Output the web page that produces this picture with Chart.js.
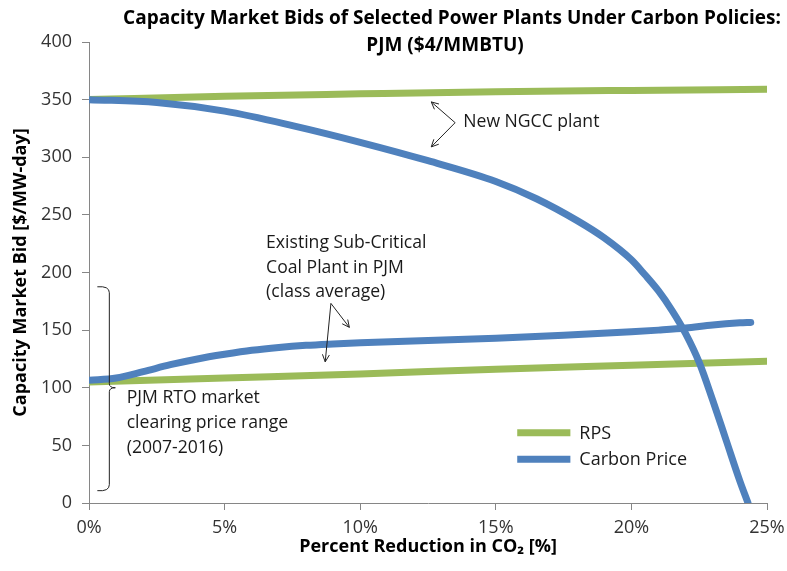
<!DOCTYPE html>
<html>
<head>
<meta charset="utf-8">
<script src="https://cdn.jsdelivr.net/npm/chart.js@4"></script>
<style>
  html, body { margin: 0; padding: 0; background: #ffffff; }
  #wrap { width: 787px; height: 571px; }
</style>
</head>
<body>
<div id="wrap"><canvas id="c" width="787" height="571"></canvas></div>
<script>
// ---- data (x = percent reduction in CO2, y = $/MW-day) ----
const xTickValues = [0, 5, 10, 15, 20, 25];
const yTickValues = [0, 50, 100, 150, 200, 250, 300, 350, 400];

const rpsNgccX = [0, 5, 10, 15, 20, 25];
const rpsNgccY = [350, 353, 355, 356.8, 358, 359];

const rpsCoalX = [0, 5, 10, 15, 20, 25];
const rpsCoalY = [105, 108.5, 112, 116, 119.5, 123];

const carbonNgccX = [0, 2.5, 5, 7.5, 10, 12.5, 15, 16.5, 18, 19, 20, 20.5, 21, 21.5, 22, 22.5, 23, 23.5, 24, 24.3];
const carbonNgccY = [350, 347.5, 340, 327.5, 313, 297, 279, 264, 245, 230, 211, 198, 184, 167, 147, 122, 89, 54, 19, 0];

const carbonCoalX = [0, 1, 2, 3, 4, 5, 6, 7, 8, 9, 10, 12.5, 15, 17.5, 20, 21, 22, 23, 24, 24.4];
const carbonCoalY = [106.5, 108.5, 114, 120, 125, 129, 132.5, 135, 136.8, 138, 139, 141, 143, 145.5, 148.5, 150, 151.8, 154.5, 156.3, 156.7];

const legendLabels = ['RPS', 'Carbon Price'];
const titleLines = ['Capacity Market Bids of Selected Power Plants Under Carbon Policies:', 'PJM ($4/MMBTU)'];
const xAxisTitle = 'Percent Reduction in CO\u2082 [%]';
const yAxisTitle = 'Capacity Market Bid [$/MW-day]';
const ngccNote = ['New NGCC plant'];
const coalNote = ['Existing Sub-Critical', 'Coal Plant in PJM', '(class average)'];
const pjmNote = ['PJM RTO market', 'clearing price range', '(2007-2016)'];

const GREEN = '#9BBB59';
const BLUE = '#4F81BD';
const FONT = '"Open Sans", Lato, sans-serif';

function pts(xs, ys) { return xs.map((x, i) => ({ x: x, y: ys[i] })); }

// ---- annotation plugin (positions in data units) ----
const notes = {
  ngccText: { x: 13.8, y: 330.5 },
  ngccArrow: { v: [13.5, 330], tips: [[12.62, 348], [12.62, 309]] },
  coalText: { x: 6.53, y: 225.5, dy: 24.5 },
  coalArrow: { v: [8.92, 173.2], tips: [[9.6, 152.4], [8.71, 122.5]] },
  brace: { x: 0.75, top: 187.6, bottom: 10.7, mid: 100 },
  pjmText: { x: 1.39, y: 91, dy: 25 },
  legend: { x0: 15.79, x1: 17.75, tx: 18.08, y: [61, 38] }
};

function arrowHead(ctx, fx, fy, tx, ty) {
  const a = Math.atan2(ty - fy, tx - fx);
  const L = 8, w = 0.45;
  ctx.beginPath();
  ctx.moveTo(tx - L * Math.cos(a - w), ty - L * Math.sin(a - w));
  ctx.lineTo(tx, ty);
  ctx.lineTo(tx - L * Math.cos(a + w), ty - L * Math.sin(a + w));
  ctx.stroke();
}

const annotPlugin = {
  id: 'annot',
  afterDraw(chart) {
    const ctx = chart.ctx;
    const xs = chart.scales.x, ys = chart.scales.y;
    const px = v => xs.getPixelForValue(v);
    const py = v => ys.getPixelForValue(v);
    ctx.save();
    // title
    ctx.fillStyle = '#000';
    ctx.font = 'bold 19px ' + FONT;
    ctx.textAlign = 'center';
    ctx.textBaseline = 'middle';
    ctx.fillText(titleLines[0], 452, 19);
    ctx.fillText(titleLines[1], 445, 46);

    // text notes
    ctx.font = '17.6px ' + FONT;
    ctx.textAlign = 'left';
    ctx.fillStyle = '#1a1a1a';
    ctx.fillText(ngccNote[0], px(notes.ngccText.x), py(notes.ngccText.y));
    coalNote.forEach((t, i) => ctx.fillText(t, px(notes.coalText.x), py(notes.coalText.y) + i * notes.coalText.dy));
    pjmNote.forEach((t, i) => ctx.fillText(t, px(notes.pjmText.x), py(notes.pjmText.y) + i * notes.pjmText.dy));

    // arrows
    ctx.strokeStyle = '#222';
    ctx.lineWidth = 1;
    [notes.ngccArrow, notes.coalArrow].forEach(a => {
      const vx = px(a.v[0]), vy = py(a.v[1]);
      a.tips.forEach(t => {
        const tx = px(t[0]), ty = py(t[1]);
        ctx.beginPath(); ctx.moveTo(vx, vy); ctx.lineTo(tx, ty); ctx.stroke();
        arrowHead(ctx, vx, vy, tx, ty);
      });
    });

    // curly brace
    const bx = px(notes.brace.x), bt = py(notes.brace.top), bb = py(notes.brace.bottom), bm = py(notes.brace.mid);
    ctx.beginPath();
    ctx.moveTo(bx - 12, bt);
    ctx.quadraticCurveTo(bx, bt - 1, bx, bt + 6);
    ctx.lineTo(bx, bm - 4);
    ctx.quadraticCurveTo(bx, bm, bx + 6, bm);
    ctx.quadraticCurveTo(bx, bm, bx, bm + 4);
    ctx.lineTo(bx, bb - 6);
    ctx.quadraticCurveTo(bx, bb + 1, bx - 12, bb);
    ctx.stroke();

    // legend
    const lg = notes.legend;
    const cols = [GREEN, BLUE];
    ctx.lineWidth = 7;
    ctx.lineCap = 'butt';
    ctx.font = '18px ' + FONT;
    cols.forEach((c, i) => {
      const y = py(lg.y[i]);
      ctx.strokeStyle = c;
      ctx.beginPath(); ctx.moveTo(px(lg.x0), y); ctx.lineTo(px(lg.x1), y); ctx.stroke();
      ctx.fillStyle = '#1a1a1a';
      ctx.fillText(legendLabels[i], px(lg.tx), y + 1);
    });
    ctx.restore();
  }
};

const lineStyle = (color, order) => ({
  borderColor: color,
  backgroundColor: color,
  borderWidth: 7,
  pointRadius: 0,
  pointHoverRadius: 0,
  cubicInterpolationMode: 'monotone',
  borderCapStyle: 'round',
  borderJoinStyle: 'round',
  fill: false,
  order: order
});

new Chart(document.getElementById('c'), {
  type: 'line',
  data: {
    datasets: [
      Object.assign({ label: 'RPS (NGCC)', data: pts(rpsNgccX, rpsNgccY) }, lineStyle(GREEN, 2)),
      Object.assign({ label: 'RPS (Coal)', data: pts(rpsCoalX, rpsCoalY) }, lineStyle(GREEN, 2)),
      Object.assign({ label: 'Carbon Price (NGCC)', data: pts(carbonNgccX, carbonNgccY) }, lineStyle(BLUE, 1)),
      Object.assign({ label: 'Carbon Price (Coal)', data: pts(carbonCoalX, carbonCoalY) }, lineStyle(BLUE, 1))
    ]
  },
  options: {
    responsive: false,
    animation: false,
    events: [],
    layout: { padding: { top: 42, right: 20, left: 0, bottom: 0 } },
    plugins: { legend: { display: false }, tooltip: { enabled: false }, title: { display: false } },
    scales: {
      x: {
        type: 'linear', min: 0, max: 25,
        afterBuildTicks: s => { s.ticks = xTickValues.map(v => ({ value: v })); },
        afterFit: s => { s.height = 68; s.paddingRight = 0; s.paddingLeft = 0; },
        ticks: { callback: v => v + '%', color: '#333', font: { family: FONT, size: 18 }, padding: 7, maxRotation: 0 },
        grid: { drawOnChartArea: false, drawTicks: true, tickLength: 7, color: '#868686' },
        border: { color: '#868686', width: 1 },
        title: { display: true, text: xAxisTitle, color: '#000', font: { family: FONT, size: 18, weight: 'bold' }, padding: { top: 0, bottom: 13 } }
      },
      y: {
        type: 'linear', min: 0, max: 400,
        afterBuildTicks: s => { s.ticks = yTickValues.map(v => ({ value: v })); },
        afterFit: s => { s.width = 89; },
        ticks: { color: '#333', font: { family: FONT, size: 18 }, padding: 10 },
        grid: { drawOnChartArea: false, drawTicks: true, tickLength: 7, color: '#868686' },
        border: { color: '#868686', width: 1 },
        title: { display: true, text: yAxisTitle, color: '#000', font: { family: FONT, size: 18, weight: 'bold' }, padding: { top: 10, bottom: 0 } }
      }
    }
  },
  plugins: [annotPlugin]
});
</script>
</body>
</html>
